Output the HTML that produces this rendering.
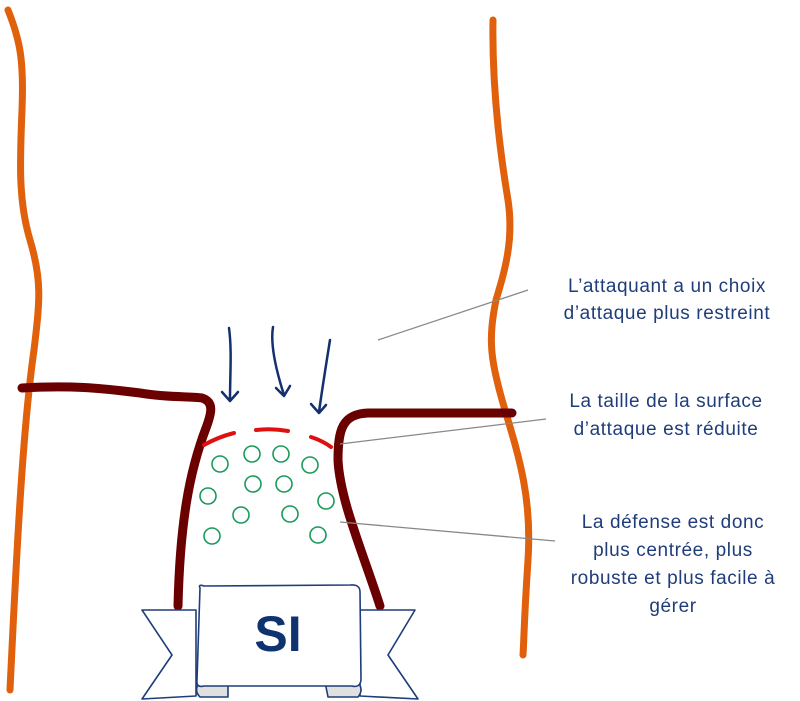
<!DOCTYPE html>
<html><head><meta charset="utf-8"><style>
body{margin:0;background:#fff;width:800px;height:701px;overflow:hidden}
svg{display:block}
text{font-family:"Liberation Sans",sans-serif}
</style></head><body>
<svg width="800" height="701" viewBox="0 0 800 701">
<g fill="none" stroke="#e0600c" stroke-width="7" stroke-linecap="round">
<path d="M8,10 C20,40 24,60 22,110 C20,160 18,200 30,240 C42,280 40,300 34,350 C24,420 18,520 10,690"/>
<path d="M493,20 C492,80 498,140 508,200 C514,240 505,270 496,300 C488,340 490,360 505,410 C520,460 532,500 528,560 C524,620 524,640 523,655"/>
</g>
<g fill="none" stroke="#6b0000" stroke-width="9" stroke-linecap="round" stroke-linejoin="round">
<path d="M22,388 C70,385 100,388 140,393 C170,398 190,396 202,398 C214,402 212,412 206,428 C190,470 180,520 178,606"/>
<path d="M512,413 L368,413 C342,414 338,430 338,460 C340,500 362,550 380,606"/>
</g>
<g fill="none" stroke="#e01010" stroke-width="4" stroke-linecap="round">
<path d="M204,445 Q218,437 234,433"/>
<path d="M256,430 Q272,428 288,431"/>
<path d="M311,437 Q323,441 331,447"/>
</g>
<g fill="none" stroke="#1a9a5a" stroke-width="1.6">
<circle cx="220" cy="464" r="8"/><circle cx="252" cy="454" r="8"/><circle cx="281" cy="454" r="8"/><circle cx="310" cy="465" r="8"/>
<circle cx="208" cy="496" r="8"/><circle cx="253" cy="484" r="8"/><circle cx="284" cy="484" r="8"/><circle cx="326" cy="501" r="8"/>
<circle cx="241" cy="515" r="8"/><circle cx="290" cy="514" r="8"/><circle cx="212" cy="536" r="8"/><circle cx="318" cy="535" r="8"/>
</g>
<g fill="none" stroke="#14306e" stroke-width="2.5" stroke-linecap="round" stroke-linejoin="round">
<path d="M229,328 C232,350 230,375 230,400"/><path d="M222,392 L230,401 L238,392"/>
<path d="M273,327 C270,345 276,370 284,395"/><path d="M276,388 L284,396 L290,386"/>
<path d="M330,340 C326,365 322,390 319,412"/><path d="M311,404 L319,413 L326,405"/>
</g>
<g stroke="#888" stroke-width="1.3">
<line x1="528" y1="290" x2="378" y2="340"/>
<line x1="546" y1="419" x2="340" y2="444"/>
<line x1="555" y1="541" x2="340" y2="522"/>
</g>
<g fill="#1f3d7a" font-size="19" letter-spacing="0.6" text-anchor="middle">
<text x="667" y="292">L’attaquant a un choix</text>
<text x="667" y="319">d’attaque plus restreint</text>
<text x="666" y="407">La taille de la surface</text>
<text x="666" y="435">d’attaque est réduite</text>
<text x="673" y="528">La défense est donc</text>
<text x="673" y="556">plus centrée, plus</text>
<text x="673" y="584">robuste et plus facile à</text>
<text x="673" y="612">gérer</text>
</g>
<g stroke="#1f3d7a" stroke-width="1.6" stroke-linejoin="round">
<path d="M142,610 L196,610 L196,696 L142,699 L172,655 Z" fill="#fff"/>
<path d="M360,610 L415,610 L388,655 L418,699 L360,696 Z" fill="#fff"/>
<path d="M200,682 L228,682 L228,697 L200,697 Q193,690 200,682 Z" fill="#e0e0e0"/>
<path d="M325,682 L358,682 Q364,690 358,697 L328,697 Z" fill="#e0e0e0"/>
<path d="M200,588 Q198,584 204,586 L350,585 Q360,584 360,592 L361,680 Q360,688 352,686 L204,686 Q196,688 197,680 Z" fill="#fff"/>
</g>
<text x="278" y="651" text-anchor="middle" font-size="50" font-weight="bold" fill="#0f336e">SI</text>
</svg>
</body></html>
